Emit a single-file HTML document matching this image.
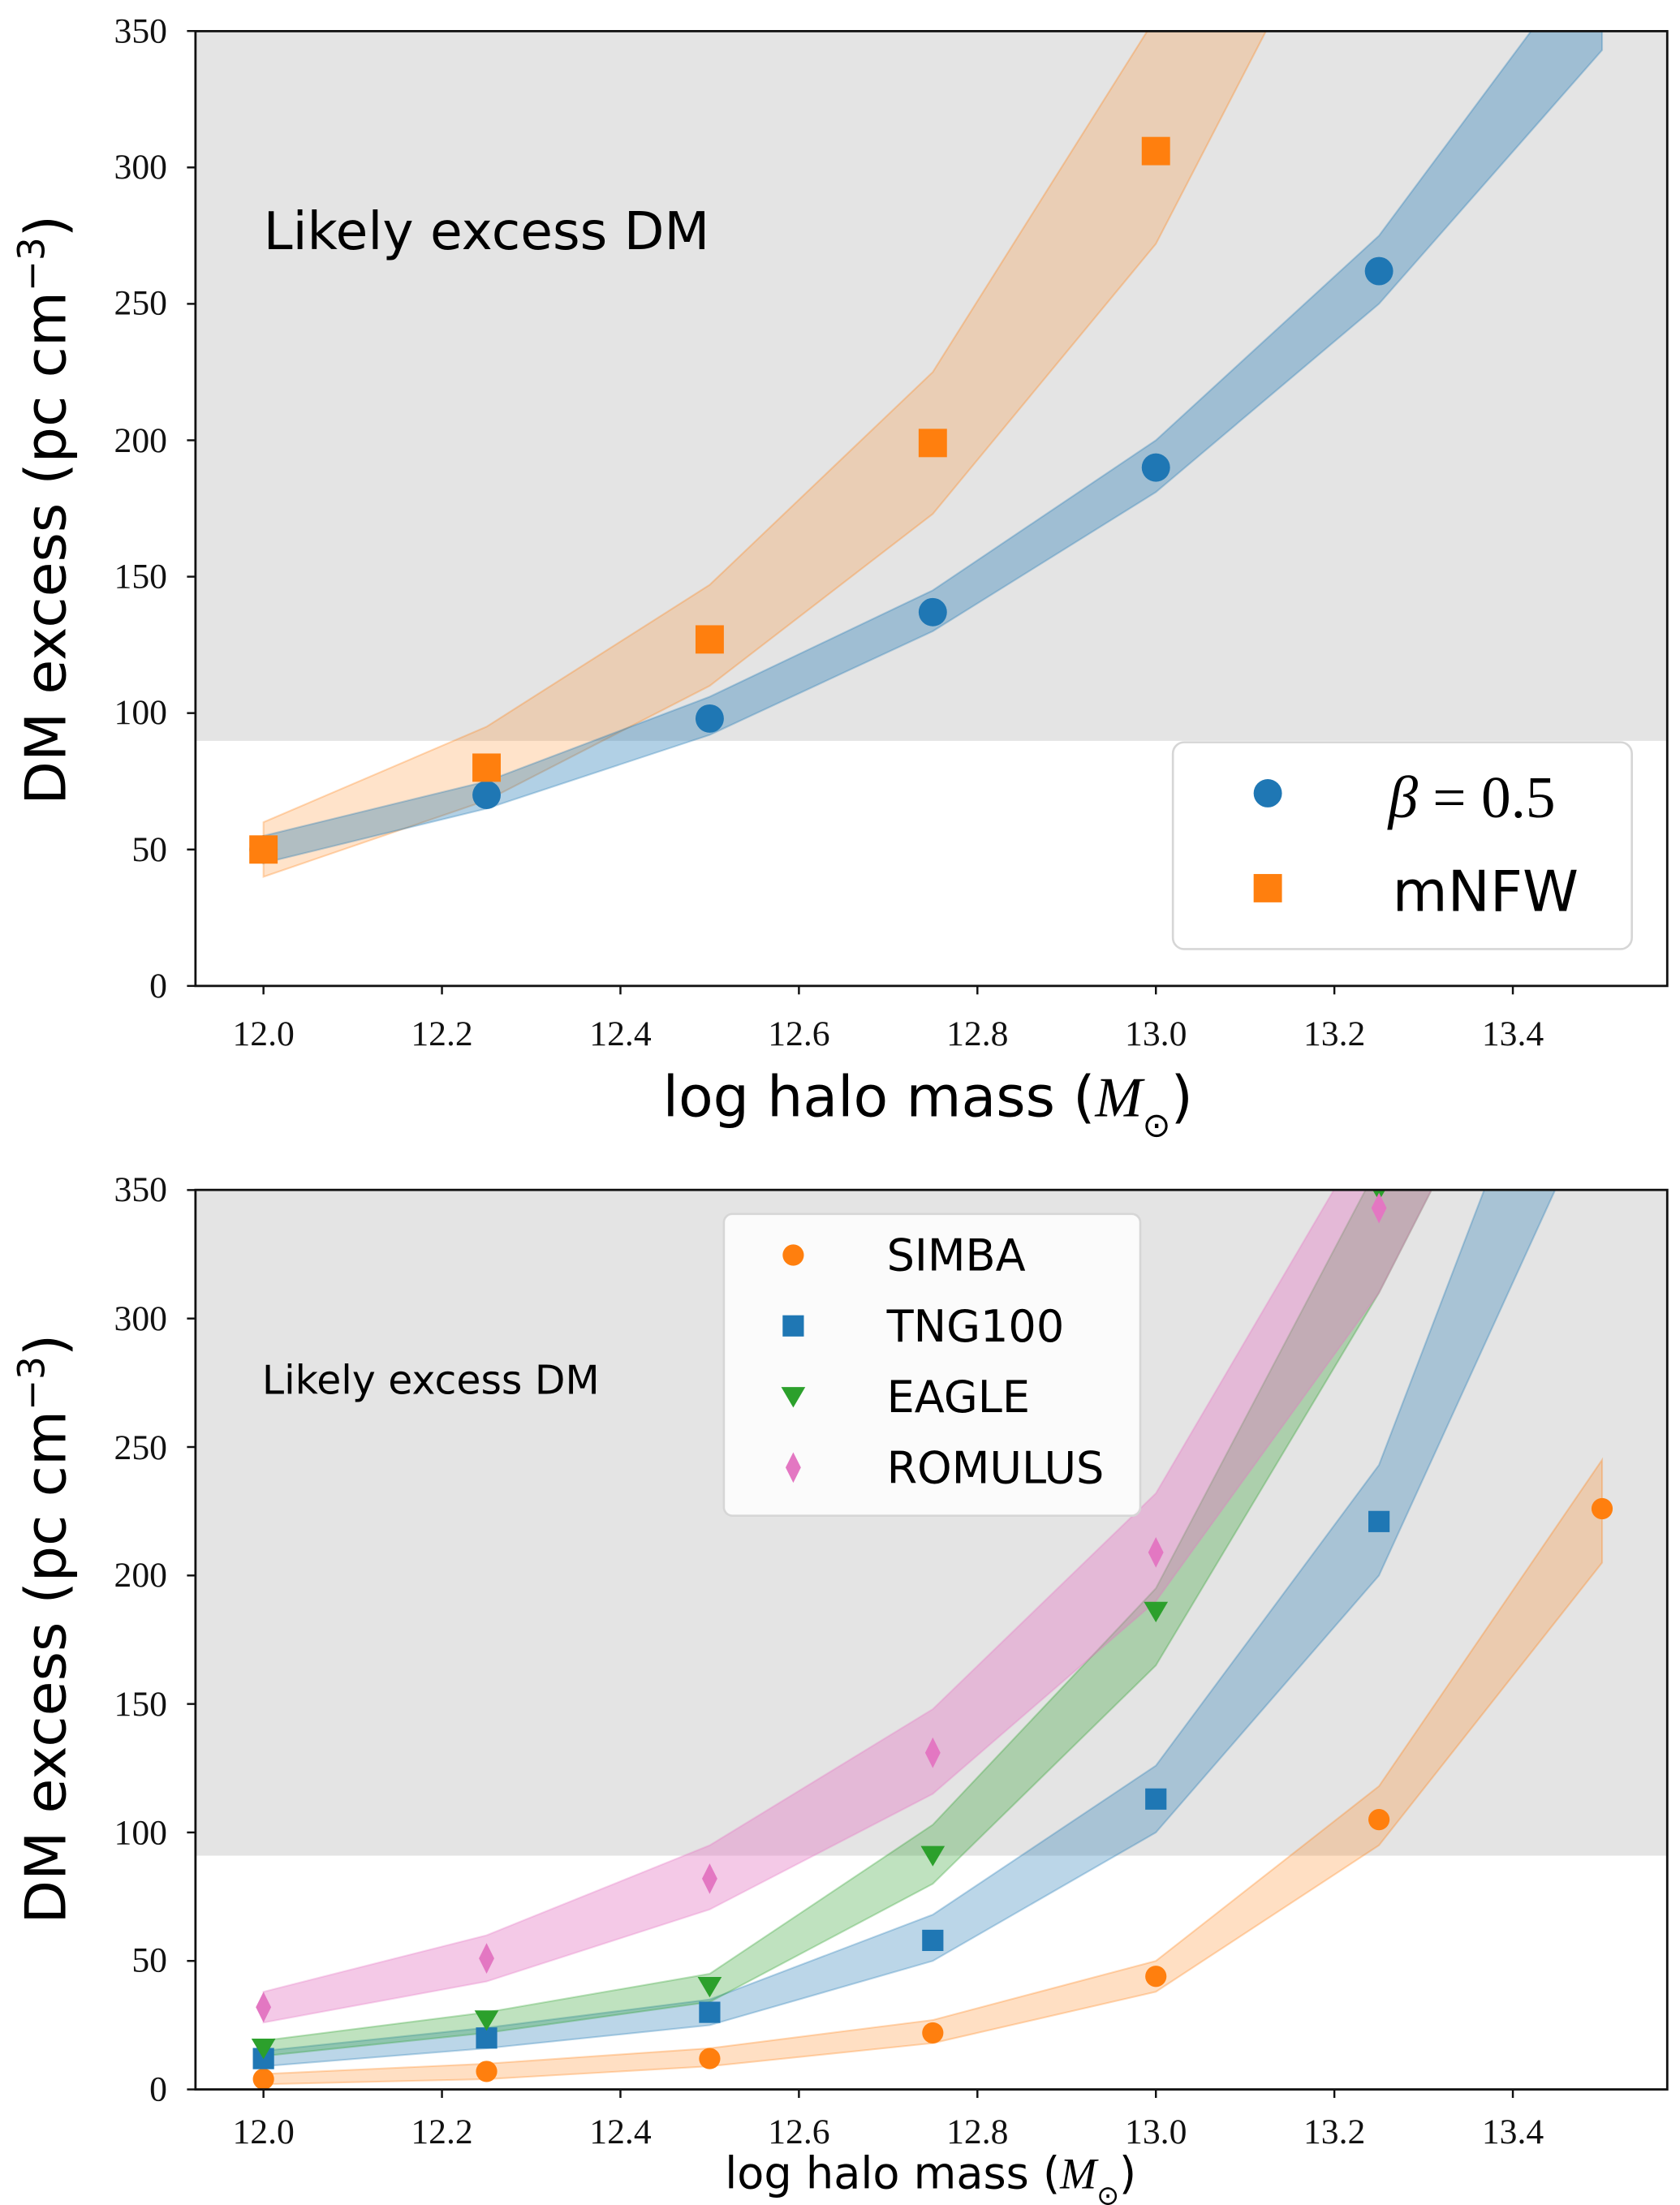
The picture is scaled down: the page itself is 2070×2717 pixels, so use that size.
<!DOCTYPE html>
<html><head><meta charset="utf-8"><style>
html,body{margin:0;padding:0;background:#fff;}
svg{display:block;}
.tk{font-family:"Liberation Serif",serif;font-size:25px;fill:#111;}
.lab{font-family:"DejaVu Sans","Liberation Sans",sans-serif;fill:#000;}
</style></head><body>
<svg id="s" width="2070" height="2717" viewBox="0 0 1186 1556.6" preserveAspectRatio="none" xmlns="http://www.w3.org/2000/svg">
<defs>
<clipPath id="c1"><rect x="138" y="22" width="1039" height="674"/></clipPath>
<clipPath id="c2"><rect x="138" y="840" width="1039" height="635"/></clipPath>
</defs>
<rect x="138" y="22" width="1039" height="501" fill="#e4e4e4"/>
<rect x="138" y="840" width="1039" height="470" fill="#e4e4e4"/>
<g id="top" clip-path="url(#c1)"></g>
<g id="bot" clip-path="url(#c2)"></g>
<g id="ticks"></g>
<rect x="138" y="22" width="1039" height="674" fill="none" stroke="#111" stroke-width="1.6"/>
<rect x="138" y="840" width="1039" height="635" fill="none" stroke="#111" stroke-width="1.6"/>

<text x="186" y="176" class="lab" font-size="37">Likely excess DM</text>
<text class="lab" font-size="40" transform="translate(46,360) rotate(-90)" text-anchor="middle">DM excess (pc cm<tspan baseline-shift="super" font-size="26">−3</tspan>)</text>
<text x="655" y="788" class="lab" font-size="40" text-anchor="middle">log halo mass (<tspan font-family="Liberation Serif,serif" font-style="italic">M</tspan><tspan font-size="24" baseline-shift="sub">⊙</tspan>)</text>
<rect x="828" y="524" width="324" height="146" rx="8" fill="#fff" fill-opacity="0.85" stroke="#d6d6d6" stroke-width="1.5"/>
<circle cx="895" cy="560" r="10" fill="#1f77b4"/>
<rect x="885" y="617" width="20" height="20" fill="#ff7f0e"/>
<text x="980" y="577" font-family="Liberation Serif,serif" font-size="42" fill="#000"><tspan font-style="italic">β</tspan> = 0.5</text>
<text x="983" y="643" class="lab" font-size="40">mNFW</text>

<text x="185" y="984" class="lab" font-size="28">Likely excess DM</text>
<text class="lab" font-size="40" transform="translate(46,1150) rotate(-90)" text-anchor="middle">DM excess (pc cm<tspan baseline-shift="super" font-size="26">−3</tspan>)</text>
<text x="657" y="1545" class="lab" font-size="31" text-anchor="middle">log halo mass (<tspan font-family="Liberation Serif,serif" font-style="italic">M</tspan><tspan font-size="19" baseline-shift="sub">⊙</tspan>)</text>
<rect x="511" y="857" width="294" height="213" rx="6" fill="#fff" fill-opacity="0.85" stroke="#d6d6d6" stroke-width="1.5"/>
<text x="626" y="897" class="lab" font-size="31">SIMBA</text>
<text x="626" y="947" class="lab" font-size="31">TNG100</text>
<text x="626" y="997" class="lab" font-size="31">EAGLE</text>
<text x="626" y="1047" class="lab" font-size="31">ROMULUS</text>

<g class="tk" text-anchor="end">
<text x="118" y="704">0</text><text x="118" y="608">50</text><text x="118" y="511">100</text><text x="118" y="415">150</text><text x="118" y="319">200</text><text x="118" y="222">250</text><text x="118" y="126">300</text><text x="118" y="30">350</text>
<text x="118" y="1483">0</text><text x="118" y="1392">50</text><text x="118" y="1302">100</text><text x="118" y="1211">150</text><text x="118" y="1120">200</text><text x="118" y="1030">250</text><text x="118" y="939">300</text><text x="118" y="848">350</text>
</g>
<g class="tk" text-anchor="middle">
<text x="186" y="738">12.0</text><text x="312" y="738">12.2</text><text x="438" y="738">12.4</text><text x="564" y="738">12.6</text><text x="690" y="738">12.8</text><text x="816" y="738">13.0</text><text x="942" y="738">13.2</text><text x="1068" y="738">13.4</text>
<text x="186" y="1513">12.0</text><text x="312" y="1513">12.2</text><text x="438" y="1513">12.4</text><text x="564" y="1513">12.6</text><text x="690" y="1513">12.8</text><text x="816" y="1513">13.0</text><text x="942" y="1513">13.2</text><text x="1068" y="1513">13.4</text>
</g>
</svg>
<script>
var NS="http://www.w3.org/2000/svg";
function X(m){return 186+(m-12)*630;}
function mk(tag,at,par){var e=document.createElementNS(NS,tag);for(var k in at)e.setAttribute(k,at[k]);par.appendChild(e);return e;}
function band(g,Y,xs,lo,hi,col,a){
 var d="M"+xs.map(function(m,i){return X(m)+","+Y(hi[i]);}).join(" L");
 for(var i=xs.length-1;i>=0;i--)d+=" L"+X(xs[i])+","+Y(lo[i]);
 mk("path",{d:d+"Z",fill:col,"fill-opacity":a,stroke:col,"stroke-opacity":0.3,"stroke-width":1.2},g);
}
function marker(g,type,x,y,col,s){
 if(type=="o")mk("circle",{cx:x,cy:y,r:s,fill:col},g);
 else if(type=="s")mk("rect",{x:x-s,y:y-s,width:2*s,height:2*s,fill:col},g);
 else if(type=="v")mk("path",{d:"M"+(x-s)+","+(y-s*0.8)+" L"+(x+s)+","+(y-s*0.8)+" L"+x+","+(y+s*0.9)+"Z",fill:col},g);
 else if(type=="d")mk("path",{d:"M"+x+","+(y-s*1.2)+" L"+(x+s*0.6)+","+y+" L"+x+","+(y+s*1.2)+" L"+(x-s*0.6)+","+y+"Z",fill:col},g);
}
var B="#1f77b4",O="#ff7f0e",G="#2ca02c",P="#e377c2";
var t=document.getElementById("top");
var Y1=function(v){return 696-v*1.926;};
var xs=[12,12.25,12.5,12.75,13,13.25,13.5];
band(t,Y1,xs,[40,68,110,173,272,430,600],[60,95,147,225,355,540,750],O,0.22);
band(t,Y1,xs,[45,65,92,130,181,250,343],[55,75,106,145,200,275,385],B,0.35);
[[12,50],[12.25,70],[12.5,98],[12.75,137],[13,190],[13.25,262]].forEach(function(p){marker(t,"o",X(p[0]),Y1(p[1]),B,10);});
[[12,50],[12.25,80],[12.5,127],[12.75,199],[13,306]].forEach(function(p){marker(t,"s",X(p[0]),Y1(p[1]),O,10);});
var b=document.getElementById("bot");
var Y2=function(v){return 1475-v*1.814;};
band(b,Y2,xs,[2,4,9,18,38,95,205],[6,10,16,27,50,118,245],O,0.25);
band(b,Y2,xs,[9,16,25,50,100,200,390],[15,24,35,68,126,243,470],B,0.3);
band(b,Y2,xs,[13,22,34,80,165,310,480],[19,30,45,103,195,360,560],G,0.3);
band(b,Y2,xs,[26,42,70,115,190,310,480],[38,60,95,148,232,380,580],P,0.4);
[[12,4],[12.25,7],[12.5,12],[12.75,22],[13,44],[13.25,105],[13.5,226]].forEach(function(p){marker(b,"o",X(p[0]),Y2(p[1]),O,7.5);});
[[12,12],[12.25,20],[12.5,30],[12.75,58],[13,113],[13.25,221]].forEach(function(p){marker(b,"s",X(p[0]),Y2(p[1]),B,7.5);});
[[12,16],[12.25,27],[12.5,40],[12.75,91],[13,186],[13.25,350]].forEach(function(p){marker(b,"v",X(p[0]),Y2(p[1]),G,8.5);});
[[12,32],[12.25,51],[12.5,82],[12.75,131],[13,209],[13.25,343]].forEach(function(p){marker(b,"d",X(p[0]),Y2(p[1]),P,9);});
var s=document.getElementById("s");
marker(s,"o",560,886,O,7.5);marker(s,"s",560,936,B,7.5);marker(s,"v",560,986,G,8.5);marker(s,"d",560,1036,P,9);
var tk=document.getElementById("ticks");
[696,1475].forEach(function(yb){for(var i=0;i<8;i++){var x=186+i*126;mk("line",{x1:x,x2:x,y1:yb,y2:yb+6,stroke:"#111","stroke-width":1.4},tk);}});
for(var i=0;i<8;i++){var y=696-i*50*1.926;mk("line",{x1:132,x2:138,y1:y,y2:y,stroke:"#111","stroke-width":1.4},tk);
 var y2=1475-i*50*1.814;mk("line",{x1:132,x2:138,y1:y2,y2:y2,stroke:"#111","stroke-width":1.4},tk);}
</script>
</body></html>
